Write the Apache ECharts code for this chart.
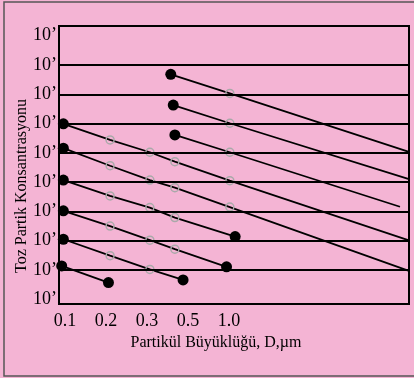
<!DOCTYPE html>
<html>
<head>
<meta charset="utf-8">
<script src="https://cdn.jsdelivr.net/npm/echarts@6/dist/echarts.min.js"></script>
<style>
html,body{margin:0;padding:0;background:#f4b4d4;}
#c{width:414px;height:378px;}
</style>
</head>
<body>
<div id="c"></div>
<script>
// Tick labels (x positions are equally spaced in the reference drawing)
const xTickLabels = ['0.1', '0.2', '0.3', '0.5', '1.0'];
const xTickPos = [0, 1, 2, 3, 4];
const yTickLabels = ['10’','10’','10’','10’','10’','10’','10’','10’','10’','10’'];
const yTickPos = [0, 1, 2, 3, 4, 5, 6, 7, 8, 9];
const gridLevels = [1, 2, 3, 4, 5, 6, 7, 8];

// Lines: x, y (in axis position units), and marker type per point
const lineA_x = [2.58, 4.02, 8.37];
const lineA_y = [7.68, 7.03, 5.04];
const lineA_m = ['filled', 'open', 'none'];

const lineB_x = [2.64, 4.02, 8.37];
const lineB_y = [6.63, 6.01, 4.11];
const lineB_m = ['filled', 'open', 'none'];

const lineC_x = [2.68, 4.02, 8.17];
const lineC_y = [5.61, 5.02, 3.16];
const lineC_m = ['filled', 'open', 'none'];

const lineD_x = [-0.04, 1.10, 2.07, 2.68, 4.02, 8.37];
const lineD_y = [5.99, 5.44, 5.02, 4.70, 4.05, 2.02];
const lineD_m = ['filled', 'open', 'open', 'open', 'open', 'none'];

const lineE_x = [-0.04, 1.10, 2.07, 2.68, 4.02, 8.37];
const lineE_y = [5.16, 4.56, 4.07, 3.81, 3.15, 0.98];
const lineE_m = ['filled', 'open', 'open', 'open', 'open', 'none'];

const lineF_x = [-0.04, 1.10, 2.07, 2.68, 4.15];
const lineF_y = [4.07, 3.53, 3.13, 2.79, 2.14];
const lineF_m = ['filled', 'open', 'open', 'open', 'filled'];

const lineG_x = [-0.04, 1.10, 2.07, 2.68, 3.94];
const lineG_y = [3.02, 2.50, 2.02, 1.71, 1.11];
const lineG_m = ['filled', 'open', 'open', 'open', 'filled'];

const lineH_x = [-0.04, 1.10, 2.07, 2.88];
const lineH_y = [2.05, 1.49, 1.02, 0.66];
const lineH_m = ['filled', 'open', 'open', 'filled'];

const lineI_x = [-0.08, 1.06];
const lineI_y = [1.14, 0.57];
const lineI_m = ['filled', 'filled'];

const allLines = [
  [lineA_x, lineA_y, lineA_m], [lineB_x, lineB_y, lineB_m], [lineC_x, lineC_y, lineC_m],
  [lineD_x, lineD_y, lineD_m], [lineE_x, lineE_y, lineE_m], [lineF_x, lineF_y, lineF_m],
  [lineG_x, lineG_y, lineG_m], [lineH_x, lineH_y, lineH_m], [lineI_x, lineI_y, lineI_m]
];

const FONT = '"Liberation Serif", "DejaVu Serif", serif';

function pointItem(x, y, m) {
  if (m === 'filled') {
    return { value: [x, y], symbol: 'circle', symbolSize: 11, itemStyle: { color: '#000', borderWidth: 0 } };
  } else if (m === 'open') {
    return { value: [x, y], symbol: 'circle', symbolSize: 8, itemStyle: { color: 'rgba(0,0,0,0)', borderColor: '#a9a9a9', borderWidth: 1.5 } };
  }
  return { value: [x, y], symbol: 'none' };
}

const series = allLines.map(function (ln) {
  return {
    type: 'line',
    z: 3,
    showSymbol: true,
    lineStyle: { color: '#000', width: 1.8 },
    data: ln[0].map(function (x, i) { return pointItem(x, ln[1][i], ln[2][i]); })
  };
});

series.push({
  type: 'line',
  z: 2,
  data: [],
  markLine: {
    silent: true,
    symbol: ['none', 'none'],
    label: { show: false },
    lineStyle: { type: 'solid', color: '#000', width: 2 },
    data: gridLevels.map(function (v) { return { yAxis: v }; })
  }
});

const chart = echarts.init(document.getElementById('c'), null, { renderer: 'canvas' });
chart.setOption({
  animation: false,
  backgroundColor: '#f4b4d4',
  grid: {
    left: 59, right: 5, top: 26, bottom: 74,
    show: true, borderColor: '#000', borderWidth: 2, backgroundColor: 'transparent'
  },
  xAxis: {
    type: 'value',
    min: -0.146, max: 8.39,
    axisLine: { show: true, onZero: false, lineStyle: { color: '#000', width: 2 } },
    axisTick: { show: false },
    splitLine: { show: false },
    axisLabel: {
      customValues: xTickPos,
      formatter: function (v) { return xTickLabels[xTickPos.indexOf(v)]; },
      color: '#000', fontFamily: FONT, fontSize: 18, margin: 8
    }
  },
  yAxis: {
    type: 'value',
    min: -0.16, max: 9.33,
    axisLine: { show: true, onZero: false, lineStyle: { color: '#000', width: 2 } },
    axisTick: { show: false },
    splitLine: { show: false },
    axisLabel: {
      customValues: yTickPos,
      formatter: function (v) { return yTickLabels[yTickPos.indexOf(v)]; },
      color: '#000', fontFamily: FONT, fontSize: 18, margin: 2
    }
  },
  graphic: [
    {
      type: 'rect', silent: true, z: -1,
      shape: { x: 4, y: 2, width: 430, height: 374 },
      style: { fill: 'none', stroke: '#555', lineWidth: 1.5 }
    },
    {
      type: 'text', x: 216, y: 343, silent: true,
      style: { text: 'Partikül Büyüklüğü, D,µm', fill: '#000', font: '16px "Liberation Serif", serif', textAlign: 'center', textVerticalAlign: 'middle' }
    },
    {
      type: 'text', x: 22, y: 186, rotation: Math.PI / 2, silent: true,
      style: { text: 'Toz Partik Konsantrasyonu', fill: '#000', font: '16px "Liberation Serif", serif', textAlign: 'center', textVerticalAlign: 'middle' }
    }
  ],
  series: series
});
</script>
</body>
</html>
